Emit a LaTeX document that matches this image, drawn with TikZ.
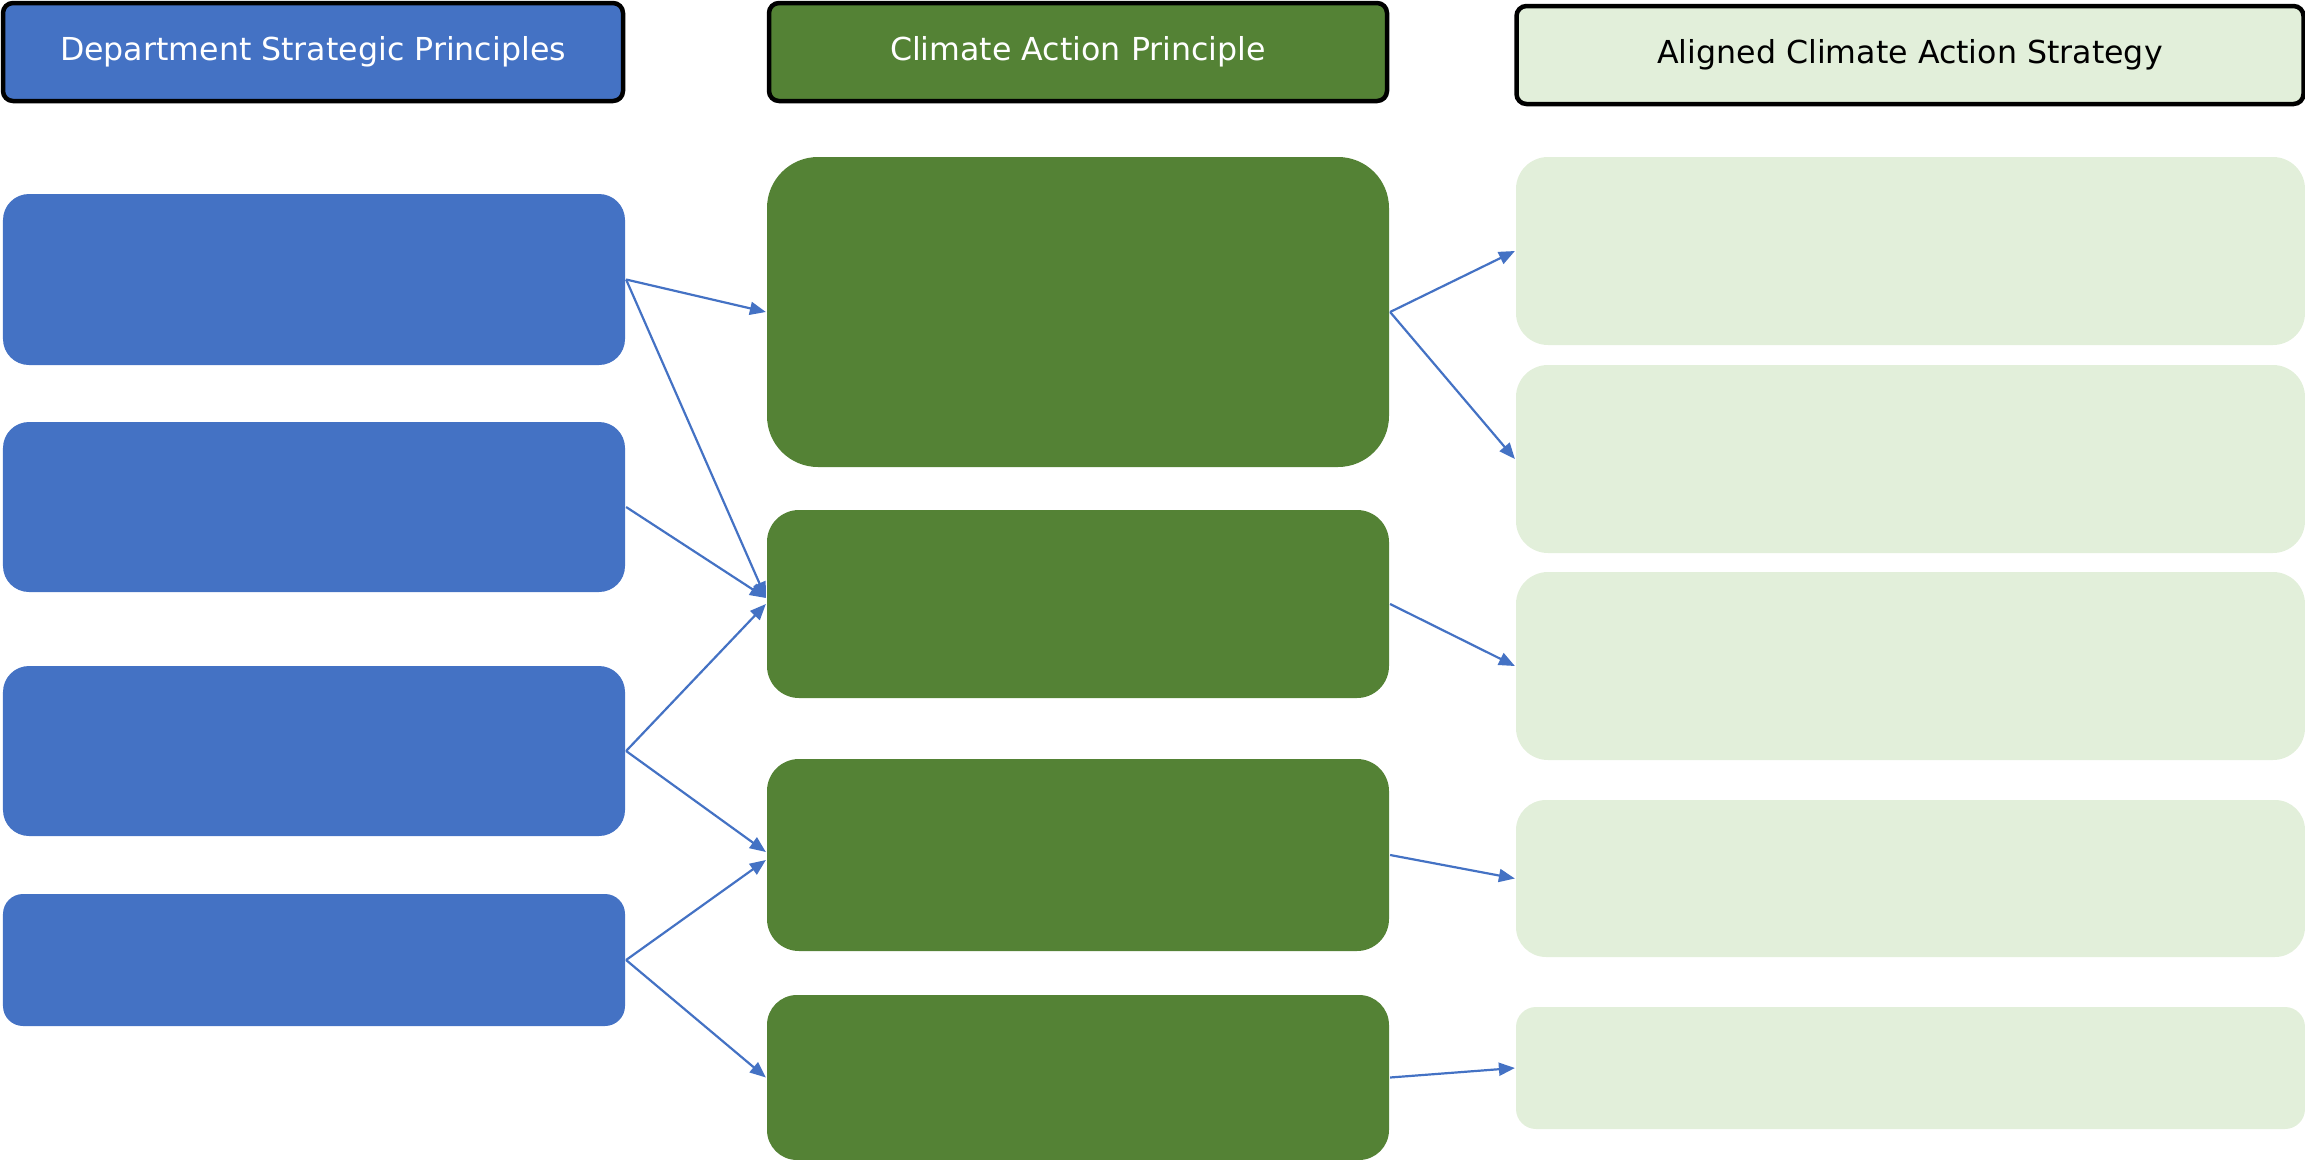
\documentclass[tikz,border=0pt]{standalone}
\usepackage{fontspec}
\setmainfont{DejaVu Sans}
\usepackage{xcolor}
\usepackage{tikz}
\usetikzlibrary{arrows.meta}
\definecolor{deptBlue}{HTML}{4472C4}
\definecolor{actGreen}{HTML}{548235}
\definecolor{stratGreen}{HTML}{E2EFDA}
\def\colw{6.22cm}

\begin{document}
\begin{tikzpicture}[-{Triangle[length=0.16cm,width=0.13cm]},draw=deptBlue,line width=0.022cm]
  \tikzstyle{head}=[draw=black, line width=0.045cm, rounded corners=0.1cm, minimum height=0.98cm, inner sep=0pt, font=\fontsize{9}{11}\selectfont]
  \tikzstyle{box}=[inner sep=0pt]
  \tikzstyle{dept box}=[box, fill=deptBlue, minimum width=\colw]
  \tikzstyle{action box}=[box, fill=actGreen, minimum width=\colw]
  \tikzstyle{strategy box}=[box, fill=stratGreen, minimum width=7.89cm]

  \useasboundingbox (0,0) rectangle (23.05,-11.6);

  % Draw the header row
  \node[head, fill=deptBlue, text=white, minimum width=6.2cm] (head-dept) at (3.13,-0.52) {Department Strategic Principles};
  \node[head, fill=actGreen, text=white, minimum width=6.18cm] (head-action) at (10.78,-0.52) {Climate Action Principle};
  \node[head, fill=stratGreen, text=black, minimum width=7.87cm] (head-strategy) at (19.1,-0.55) {Aligned Climate Action Strategy};

  % Draw the department principles
  \foreach \name / \y / \h / \r in {1/2.795/1.71/0.26, 2/5.07/1.70/0.26, 3/7.51/1.70/0.26, 4/9.60/1.32/0.2}
    \node[dept box, minimum height=\h cm, rounded corners=\r cm] (D-\name) at (3.14,-\y) {};

  % Draw the climate action principles
  \foreach \name / \y / \h / \r in {1/3.12/3.10/0.51, 2/6.04/1.88/0.32, 3/8.55/1.92/0.32, 4/10.775/1.65/0.3}
    \node[action box, minimum height=\h cm, rounded corners=\r cm] (A-\name) at (10.78,-\y) {};

  % Draw the aligned strategies
  \foreach \name / \y / \h / \r in {1/2.51/1.88/0.32, 2/4.59/1.88/0.32, 3/6.66/1.88/0.32, 4/8.785/1.57/0.3, 5/10.68/1.22/0.2}
    \node[strategy box, minimum height=\h cm, rounded corners=\r cm] (S-\name) at (19.105,-\y) {};

  % Connect departments -> climate principles
  \path (D-1.east) edge (A-1.west);
  \path (D-1.east) edge ([yshift=0.06cm]A-2.west);
  \path (D-2.east) edge ([yshift=0.06cm]A-2.west);
  \path (D-3.east) edge (A-2.west);
  \path (D-3.east) edge ([yshift=0.03cm]A-3.west);
  \path (D-4.east) edge ([yshift=-0.05cm]A-3.west);
  \path (D-4.east) edge (A-4.west);

  % Connect climate principles -> strategies
  \path (A-1.east) edge (S-1.west);
  \path (A-1.east) edge (S-2.west);
  \path (A-2.east) edge (S-3.west);
  \path (A-3.east) edge (S-4.west);
  \path (A-4.east) edge (S-5.west);
\end{tikzpicture}
\end{document}
